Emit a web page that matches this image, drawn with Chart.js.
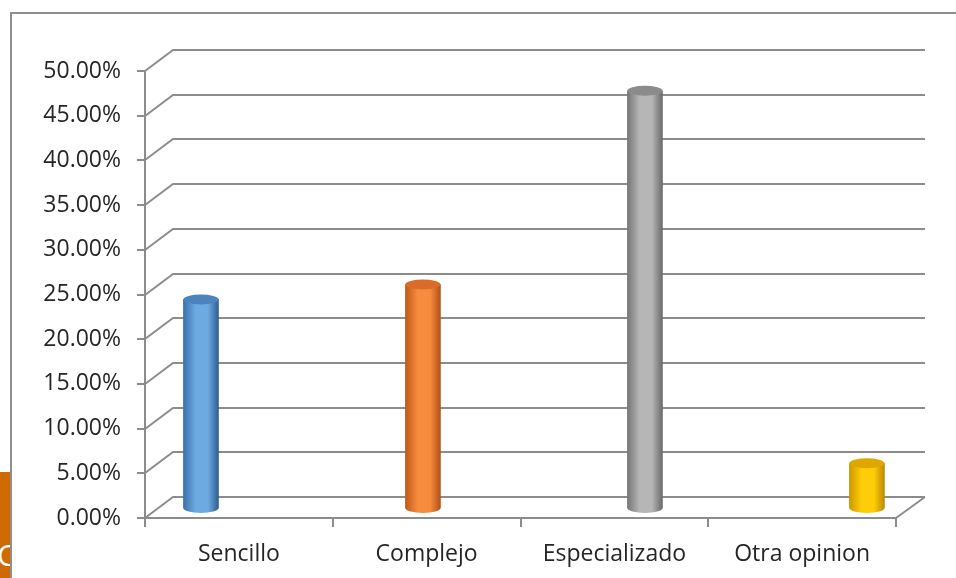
<!DOCTYPE html>
<html>
<head>
<meta charset="utf-8">
<script src="https://cdn.jsdelivr.net/npm/chart.js@4"></script>
<style>
  html, body { margin: 0; padding: 0; background: #fff; }
  #wrap { position: relative; width: 956px; height: 578px; overflow: hidden; }
  /* frame of the chart object on the slide */
  #frame { position: absolute; left: 10px; top: 12px; width: 980px; height: 620px;
           border-left: 2px solid #8f8f8f; border-top: 2px solid #8f8f8f; box-sizing: border-box; }
  /* bit of the slide showing at the bottom left */
  #slide { position: absolute; left: 0; top: 472px; width: 10px; height: 106px; background: #cf6a00;
           overflow: hidden; }
  #slide span { position: absolute; left: -3px; top: 62px; color: #fff; font: 30px 'Open Sans', sans-serif; }
  canvas { position: absolute; left: 0; top: 0; }
</style>
</head>
<body>
<div id="wrap">
  <div id="slide"><span>C</span></div>
  <div id="frame"></div>
  <canvas id="bar_chart" width="956" height="578"></canvas>
</div>
<script>
// Categories and values
const categories = ['Sencillo', 'Complejo', 'Especializado', 'Otra opinion']
const percentages = [23.33, 25.00, 46.67, 5.00]
// Axis from 0% to 50% in steps of 5%
const yMin = 0
const yMax = 50
const yStep = 5

// Cylinder colours: [dark edge, light side, right edge, top]
const cylColors = [
  ['#3a72aa', '#6eaae2', '#2e5e8e', '#4a83bd'], // blue
  ['#c0581a', '#f78c3e', '#b2521a', '#d96b2b'], // orange
  ['#777777', '#b6b6b6', '#6a6a6a', '#8b8b8b'], // gray
  ['#cf9800', '#ffcd08', '#bd8a00', '#dfa700']  // gold
]

const GRID = '#8c8c8c'
const DX = 28   // depth offset of back wall
const DY = 21

function cylGradient(ctx, x, w, c) {
  let g = ctx.createLinearGradient(x - w / 2, 0, x + w / 2, 0)
  g.addColorStop(0, c[0])
  g.addColorStop(0.35, c[1])
  g.addColorStop(0.7, c[1])
  g.addColorStop(1, c[2])
  return g
}

// draws the back wall / floor lines behind the cylinders, and the round ends on top
const wall3d = {
  id: 'wall3d',
  beforeDatasetsDraw(chart) {
    const ctx = chart.ctx
    const a = chart.chartArea
    const y = chart.scales.y
    ctx.save()
    ctx.strokeStyle = GRID
    ctx.lineWidth = 2
    y.ticks.forEach(t => {
      let py = Math.round(y.getPixelForValue(t.value))
      ctx.beginPath()
      ctx.moveTo(a.left, py)
      ctx.lineTo(a.left + DX, py - DY)
      ctx.lineTo(a.right + DX + 1, py - DY)
      ctx.stroke()
    })
    // right edge of the floor
    ctx.beginPath()
    ctx.moveTo(a.right, a.bottom)
    ctx.lineTo(a.right + DX + 1, a.bottom - DY)
    ctx.stroke()
    ctx.restore()
  },
  afterDatasetsDraw(chart) {
    const ctx = chart.ctx
    const meta = chart.getDatasetMeta(0)
    ctx.save()
    meta.data.forEach((bar, i) => {
      let c = cylColors[i]
      let w = bar.width
      // rounded bottom
      ctx.beginPath()
      ctx.ellipse(bar.x, bar.base, w / 2, 5, 0, 0, Math.PI)
      ctx.fillStyle = cylGradient(ctx, bar.x, w, c)
      ctx.fill()
      // top of the cylinder
      ctx.beginPath()
      ctx.ellipse(bar.x, bar.y, w / 2, 5, 0, 0, Math.PI * 2)
      ctx.fillStyle = c[3]
      ctx.fill()
    })
    ctx.restore()
  }
}

let ctx = document.getElementById('bar_chart')
new Chart(ctx, {
  type: 'bar',
  data: {
    labels: categories,
    datasets: [{
      data: percentages.map((v, i) => ({ x: i, y: v })),
      xAxisID: 'xb',
      yAxisID: 'yb',
      barThickness: 35,
      borderWidth: 0,
      backgroundColor: (c) => {
        let xs = c.chart.scales.xb
        let px = xs ? xs.getPixelForValue(c.dataIndex) : NaN
        if (!isFinite(px)) return cylColors[c.dataIndex % 4][1]
        return cylGradient(c.chart.ctx, px, 35, cylColors[c.dataIndex])
      }
    }]
  },
  options: {
    responsive: false,
    animation: false,
    layout: { padding: { left: 10, right: 60, top: 71, bottom: 0 } },
    plugins: { legend: { display: false }, tooltip: { enabled: false } },
    scales: {
      x: {
        type: 'category',
        offset: true,
        grid: { offset: true, drawOnChartArea: false, tickLength: 9, color: GRID, lineWidth: 2 },
        border: { color: GRID, width: 2 },
        ticks: { color: '#262626', font: { family: 'Open Sans', size: 23 }, padding: 14, maxRotation: 0 },
        afterFit: s => { s.height = 60 }
      },
      y: {
        min: yMin,
        max: yMax,
        grid: { drawOnChartArea: false, tickLength: 8, color: GRID, lineWidth: 2 },
        border: { color: GRID, width: 2 },
        ticks: {
          stepSize: yStep,
          color: '#262626',
          font: { family: 'Open Sans', size: 23 },
          padding: 16,
          callback: v => v.toFixed(2) + '%'
        },
        afterFit: s => { s.width = 135 }
      },
      // hidden scales that place the cylinders in the middle of the floor depth
      xb: { type: 'linear', display: false, offset: false, min: -0.252, max: 3.131 },
      yb: { type: 'linear', display: false, min: -1.12, max: 48.88 }
    }
  },
  plugins: [wall3d]
})
</script>
</body>
</html>
